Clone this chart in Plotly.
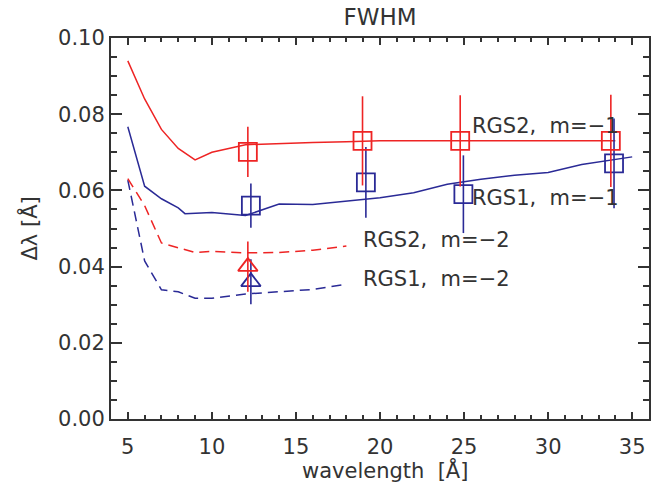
import plotly.graph_objects as go

# ---- data ----
wl_rgs2_m1 = [5, 6, 7, 8, 9, 10, 12, 14, 16, 18, 20, 22, 24, 26, 28, 30, 32, 34]
fw_rgs2_m1 = [0.0940, 0.0840, 0.0760, 0.0710, 0.0680, 0.0700, 0.0720, 0.0724, 0.0726,
              0.0728, 0.0730, 0.0730, 0.0730, 0.0730, 0.0730, 0.0730, 0.0730, 0.0730]

wl_rgs1_m1 = [5, 6, 7, 8, 8.4, 10, 12, 14, 16, 18, 20, 22, 24, 26, 28, 30, 32, 35]
fw_rgs1_m1 = [0.0767, 0.0611, 0.0578, 0.0554, 0.0539, 0.0542, 0.0534, 0.0564, 0.0563,
              0.0572, 0.0581, 0.0594, 0.0616, 0.0629, 0.0640, 0.0647, 0.0668, 0.0688]

wl_rgs2_m2 = [5, 6, 7, 8, 9, 10, 12, 14, 16, 18]
fw_rgs2_m2 = [0.0631, 0.0560, 0.0462, 0.0450, 0.0437, 0.0440, 0.0436, 0.0437, 0.0443, 0.0454]

wl_rgs1_m2 = [5, 6, 7, 8, 9, 10, 12, 14, 16, 18]
fw_rgs1_m2 = [0.0627, 0.0415, 0.0339, 0.0334, 0.0317, 0.0317, 0.0328, 0.0334, 0.0340, 0.0354]

meas_rgs2_m1_x = [12.14, 18.96, 24.77, 33.73]
meas_rgs2_m1_y = [0.0701, 0.0730, 0.0730, 0.0730]
meas_rgs2_m1_e = [0.0066, 0.0117, 0.0120, 0.0121]

meas_rgs1_m1_x = [12.32, 19.16, 24.96, 33.92]
meas_rgs1_m1_y = [0.0560, 0.0621, 0.0590, 0.0671]
meas_rgs1_m1_e = [0.0058, 0.0093, 0.0102, 0.0118]

meas_rgs2_m2_x = [12.14]
meas_rgs2_m2_y = [0.0400]
meas_rgs2_m2_e = [0.0066]

meas_rgs1_m2_x = [12.32]
meas_rgs1_m2_y = [0.0360]
meas_rgs1_m2_e = [0.0059]

labels = ["RGS2,  m=\u22121", "RGS1,  m=\u22121", "RGS2,  m=\u22122", "RGS1,  m=\u22122"]

RED = "rgb(238,36,36)"
BLUE = "rgb(42,42,150)"
TXT = "#333333"
FONT = "DejaVu Sans"

fig = go.Figure()

# model curves
fig.add_trace(go.Scatter(x=wl_rgs1_m2, y=fw_rgs1_m2, mode="lines",
                         line=dict(color=BLUE, width=1.5, dash="10px,6px")))
fig.add_trace(go.Scatter(x=wl_rgs2_m2, y=fw_rgs2_m2, mode="lines",
                         line=dict(color=RED, width=1.5, dash="10px,6px")))
fig.add_trace(go.Scatter(x=wl_rgs1_m1, y=fw_rgs1_m1, mode="lines",
                         line=dict(color=BLUE, width=1.5)))
fig.add_trace(go.Scatter(x=wl_rgs2_m1, y=fw_rgs2_m1, mode="lines",
                         line=dict(color=RED, width=1.5)))

# measurements
def meas(x, y, e, color, symbol, size):
    return go.Scatter(
        x=x, y=y, mode="markers",
        marker=dict(symbol=symbol, size=size, color=color,
                    line=dict(color=color, width=1.8)),
        error_y=dict(type="data", array=e, visible=True, color=color,
                     thickness=1.6, width=0),
    )

fig.add_trace(meas(meas_rgs1_m1_x, meas_rgs1_m1_y, meas_rgs1_m1_e, BLUE, "square-open", 18))
fig.add_trace(meas(meas_rgs2_m1_x, meas_rgs2_m1_y, meas_rgs2_m1_e, RED, "square-open", 18))
fig.add_trace(meas(meas_rgs1_m2_x, meas_rgs1_m2_y, meas_rgs1_m2_e, BLUE, "triangle-up-open", 17))
fig.add_trace(meas(meas_rgs2_m2_x, meas_rgs2_m2_y, meas_rgs2_m2_e, RED, "triangle-up-open", 17))

label_pos = [(25.35, 0.0770), (25.35, 0.0581), (18.85, 0.0470), (18.85, 0.0368)]
for txt, (lx, ly) in zip(labels, label_pos):
    fig.add_annotation(x=lx, y=ly, text=txt, showarrow=False, xanchor="left",
                       yanchor="middle", font=dict(family=FONT, size=21, color=TXT))

# axis titles
fig.add_annotation(xref="paper", yref="paper", x=0, y=0.5, xshift=-83,
                   text="\u0394\u03bb [\u00c5]", textangle=-90, showarrow=False,
                   xanchor="center", yanchor="middle",
                   font=dict(family=FONT, size=21, color=TXT))
fig.add_annotation(xref="paper", yref="paper", x=0.5, y=0, xshift=5, yshift=-51,
                   text="wavelength  [\u00c5]", showarrow=False,
                   xanchor="center", yanchor="middle",
                   font=dict(family=FONT, size=21, color=TXT))

axis_common = dict(showgrid=False, zeroline=False, showline=True, linecolor=TXT,
                   linewidth=2, mirror="ticks", ticks="inside", tickcolor=TXT,
                   tickwidth=1.5, automargin=False,
                   tickfont=dict(family=FONT, size=21, color=TXT))

fig.update_xaxes(range=[4, 36], tick0=5, dtick=5, ticklen=7,
                 minor=dict(dtick=1, ticks="inside", ticklen=4, tickcolor=TXT, tickwidth=1.5),
                 ticklabelstandoff=8, **axis_common)
fig.update_yaxes(range=[0, 0.1], tick0=0, dtick=0.02, tickformat=".2f", ticklen=11,
                 minor=dict(dtick=0.005, ticks="inside", ticklen=6, tickcolor=TXT, tickwidth=1.5),
                 ticklabelstandoff=0, **axis_common)

fig.update_layout(
    template="none",
    width=661, height=485,
    margin=dict(l=111, r=12, t=38, b=66, autoexpand=False),
    paper_bgcolor="white", plot_bgcolor="white",
    showlegend=False,
    title=dict(text="FWHM", x=0.5, xref="paper", y=1 - 17 / 485, yref="container",
               xanchor="center", yanchor="middle",
               font=dict(family=FONT, size=23, color=TXT)),
)

fig.write_html("out.html",
               config={"displayModeBar": False},
               post_script="document.body.style.margin='0';"
                           "document.body.style.overflow='hidden';")
